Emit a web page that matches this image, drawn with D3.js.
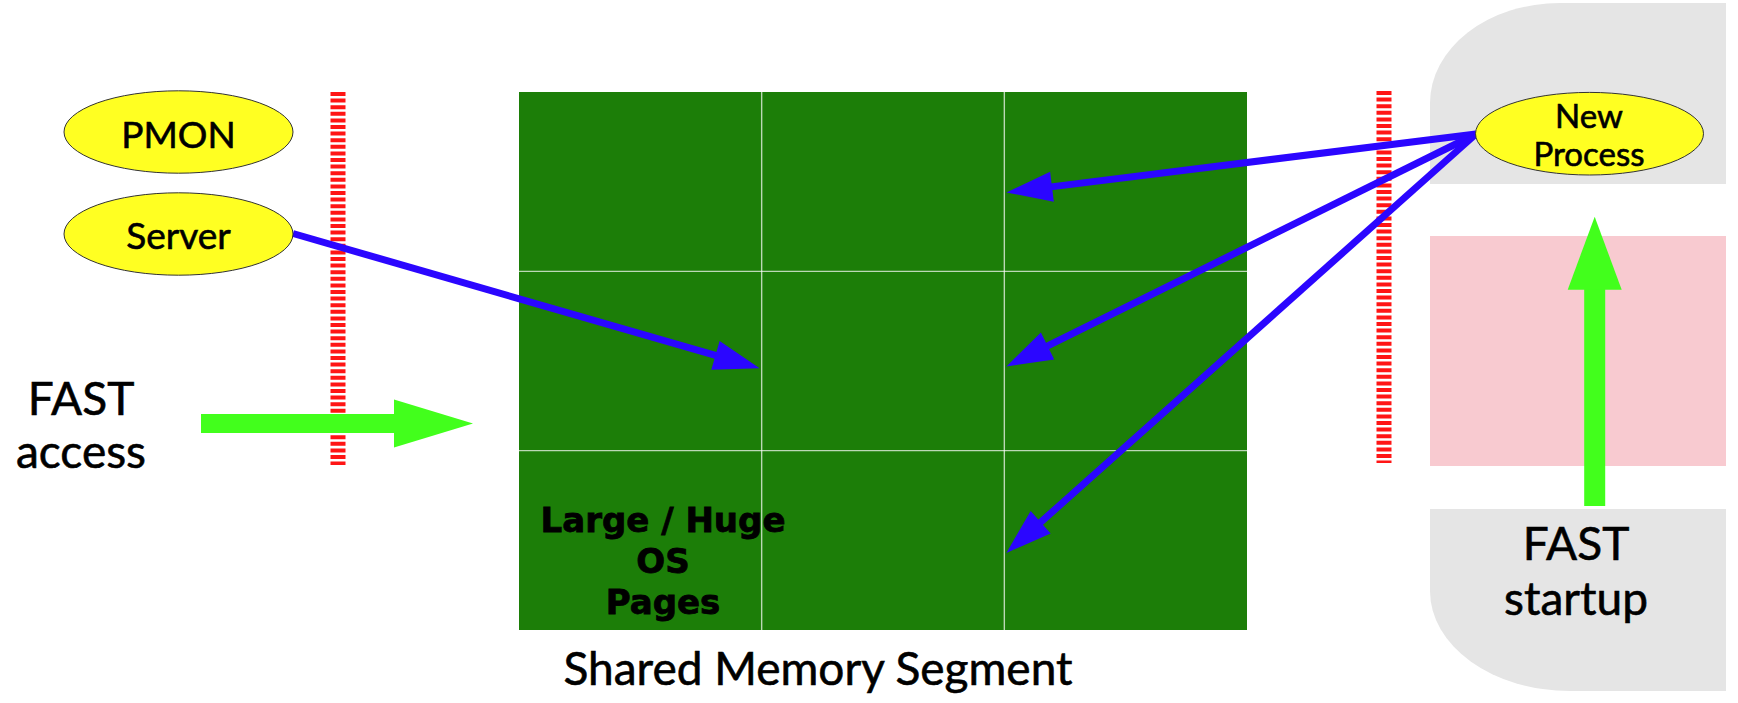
<!DOCTYPE html>
<html>
<head>
<meta charset="utf-8">
<script src="https://cdn.jsdelivr.net/npm/d3@7"></script>
<style>
  body { margin: 0; background: #fff; }
  svg { display: block; }
  .lbl { font-family: Lato, sans-serif; stroke: #000; stroke-width: 0.6px; }
</style>
</head>
<body>
<svg id="chart" width="1738" height="703"></svg>
<script>
// values
const gridCols = [0, 1, 2];
const gridRows = [0, 1, 2];
const leftProcesses = ["PMON", "Server"];
const newProcessLines = ["New", "Process"];
const accessLines = ["FAST", "access"];
const startupLines = ["FAST", "startup"];
const pageLines = ["Large / Huge", "OS", "Pages"];
const segmentTitle = "Shared Memory Segment";
// arrow tips in grid units (col, row) of the memory segment
const serverTarget = [1, 1.54];
const newProcessTargets = [[2, 0.56], [2, 1.53], [2, 2.57]];

const W = 1738, H = 703;
const svg = d3.select("#chart");

const BLUE = "#2b06ff", GREEN = "#42ff1c", SEG = "#1c7e08",
      RED = "#ff1515", YELLOW = "#ffff22", GREY = "#e5e5e5", PINK = "#f8cad0";

// grid scales for the shared memory segment
const gx = d3.scaleLinear().domain([0, gridCols.length]).range([519, 1247]);
const gy = d3.scaleLinear().domain([0, gridRows.length]).range([92, 630]);

// ---- right side background shapes
const rx0 = 1430, rx1 = 1726;
svg.append("path")
    .attr("d", `M${rx0},184 L${rx0},103 A130,100 0 0 1 ${rx0 + 130},3 L${rx1},3 L${rx1},184 Z`)
    .attr("fill", GREY);
svg.append("rect")
    .attr("x", rx0).attr("y", 236).attr("width", rx1 - rx0).attr("height", 230)
    .attr("fill", PINK);
svg.append("path")
    .attr("d", `M${rx0},509 L${rx1},509 L${rx1},691 L${rx0 + 140},691 A140,100 0 0 1 ${rx0},591 Z`)
    .attr("fill", GREY);

// ---- memory segment
const seg = svg.append("g");
seg.append("rect")
    .attr("x", gx(0)).attr("y", gy(0))
    .attr("width", gx(3) - gx(0)).attr("height", gy(3) - gy(0))
    .attr("fill", SEG);
seg.selectAll("line.v").data(gridCols.slice(1)).enter().append("line")
    .attr("x1", d => gx(d)).attr("x2", d => gx(d))
    .attr("y1", gy(0)).attr("y2", gy(3))
    .attr("stroke", "rgba(255,255,255,0.7)").attr("stroke-width", 1.4);
seg.selectAll("line.h").data(gridRows.slice(1)).enter().append("line")
    .attr("y1", d => gy(d)).attr("y2", d => gy(d))
    .attr("x1", gx(0)).attr("x2", gx(3))
    .attr("stroke", "rgba(255,255,255,0.7)").attr("stroke-width", 1.4);

seg.selectAll("text.page").data(pageLines).enter().append("text")
    .attr("x", 663).attr("y", (d, i) => 532 + i * 41)
    .attr("text-anchor", "middle")
    .style("font-family", "'DejaVu Sans', sans-serif")
    .style("font-weight", "bold")
    .style("font-size", "34px")
    .attr("fill", "#000")
    .attr("stroke", "#000").attr("stroke-width", 0.8)
    .text(d => d);

svg.append("text").attr("class", "lbl")
    .attr("x", 818).attr("y", 685)
    .attr("text-anchor", "middle")
    .style("font-size", "46px")
    .text(segmentTitle);

// ---- red dashed barriers
[[338, 92, 465], [1384, 91, 463]].forEach(b => {
    svg.append("line")
        .attr("x1", b[0]).attr("x2", b[0]).attr("y1", b[1]).attr("y2", b[2])
        .attr("stroke", RED).attr("stroke-width", 15)
        .attr("stroke-dasharray", "4,2.6");
});

// ---- arrows
function arrow(x1, y1, x2, y2, color, width, headLen, headHalf) {
    const a = Math.atan2(y2 - y1, x2 - x1);
    const bx = x2 - headLen * Math.cos(a), by = y2 - headLen * Math.sin(a);
    const px = -Math.sin(a) * headHalf, py = Math.cos(a) * headHalf;
    const g = svg.append("g");
    g.append("line")
        .attr("x1", x1).attr("y1", y1)
        .attr("x2", bx + Math.cos(a)).attr("y2", by + Math.sin(a))
        .attr("stroke", color).attr("stroke-width", width);
    g.append("path")
        .attr("d", d3.line()([[x2, y2], [bx + px, by + py], [bx - px, by - py]]) + "Z")
        .attr("fill", color);
}

arrow(293, 233.5, gx(serverTarget[0]) - 2, gy(serverTarget[1]), BLUE, 7, 46, 15);
newProcessTargets.forEach(t => {
    arrow(1476, 134, gx(t[0]) + 2, gy(t[1]), BLUE, 7, 46, 15);
});

arrow(201, 423.5, 473, 423.5, GREEN, 19, 79, 24);
arrow(1594.7, 506, 1594.7, 216.7, GREEN, 21, 73, 27);

// ---- process ellipses
const ell = svg.append("g");
ell.selectAll("ellipse.p").data(leftProcesses).enter().append("ellipse")
    .attr("cx", 178.5).attr("cy", (d, i) => 132 + i * 102)
    .attr("rx", 114.5).attr("ry", 41.2)
    .attr("fill", YELLOW).attr("stroke", "#333").attr("stroke-width", 1);
ell.selectAll("text.p").data(leftProcesses).enter().append("text").attr("class", "lbl")
    .attr("x", 178.5).attr("y", (d, i) => 147.5 + i * 101)
    .attr("text-anchor", "middle")
    .style("font-size", "37px")
    .text(d => d);

ell.append("ellipse")
    .attr("cx", 1589.5).attr("cy", 133.7).attr("rx", 114).attr("ry", 41.3)
    .attr("fill", YELLOW).attr("stroke", "#333").attr("stroke-width", 1);
ell.selectAll("text.np").data(newProcessLines).enter().append("text").attr("class", "lbl")
    .attr("x", 1589).attr("y", (d, i) => 128 + i * 38)
    .attr("text-anchor", "middle")
    .style("font-size", "33px")
    .text(d => d);

// ---- FAST labels
svg.selectAll("text.acc").data(accessLines).enter().append("text").attr("class", "lbl")
    .attr("x", 81).attr("y", (d, i) => 415 + i * 53)
    .attr("text-anchor", "middle")
    .style("font-size", "46px")
    .text(d => d);
svg.selectAll("text.st").data(startupLines).enter().append("text").attr("class", "lbl")
    .attr("x", 1576).attr("y", (d, i) => 560 + i * 55)
    .attr("text-anchor", "middle")
    .style("font-size", "46px")
    .text(d => d);
</script>
</body>
</html>
